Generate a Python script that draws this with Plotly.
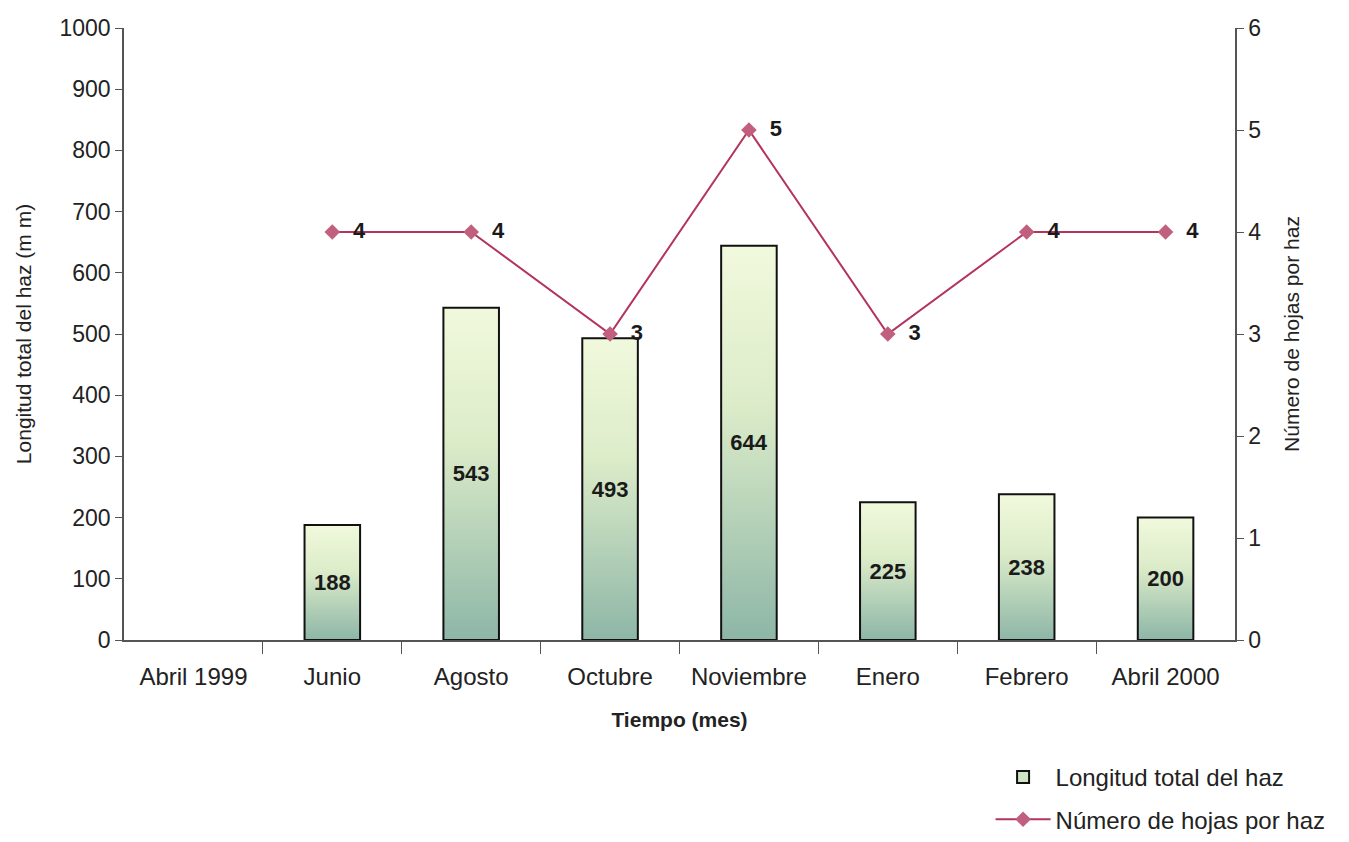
import base64
import plotly.graph_objects as go

# Sampling months
meses = ["Abril 1999", "Junio", "Agosto", "Octubre", "Noviembre",
         "Enero", "Febrero", "Abril 2000"]
# Total bundle length (mm); no measurement in April 1999
longitud = [None, 188, 543, 493, 644, 225, 238, 200]
# Leaves per bundle
hojas = [None, 4, 4, 3, 5, 3, 4, 4]

pos = list(range(len(meses)))
ancho = 0.4
fuente = "Liberation Sans, Arial, sans-serif"

# Vertical gradient used as the fill of each bar
svg = (
    '<svg xmlns="http://www.w3.org/2000/svg" width="10" height="100" '
    'preserveAspectRatio="none">'
    '<defs><linearGradient id="g" x1="0" y1="0" x2="0" y2="1">'
    '<stop offset="0" stop-color="#f1f9dc"/>'
    '<stop offset="0.4" stop-color="#dcecc9"/>'
    '<stop offset="1" stop-color="#8db6a7"/>'
    '</linearGradient></defs>'
    '<rect width="10" height="100" fill="url(#g)"/></svg>'
)
grad_src = "data:image/svg+xml;base64," + base64.b64encode(svg.encode()).decode()

fig = go.Figure()

fig.add_trace(go.Bar(
    x=pos, y=longitud, width=ancho,
    marker=dict(color="rgba(0,0,0,0)", line=dict(color="#111", width=2)),
    text=[("" if v is None else str(v)) for v in longitud],
    textposition="inside", insidetextanchor="middle",
    textfont=dict(family=fuente, size=22, color="#1a1a1a", weight="bold"),
    showlegend=False, yaxis="y",
))
# legend entry for the bars
fig.add_trace(go.Bar(
    x=[None], y=[None], name="Longitud total del haz", legendgroup="a",
    marker=dict(color="#cfe4c4", line=dict(color="#111", width=2)),
))

fig.add_trace(go.Scatter(
    x=pos, y=hojas, name="Número de hojas por haz", yaxis="y2", legendgroup="b",
    mode="lines+markers+text",
    line=dict(color="#b3345c", width=2),
    marker=dict(symbol="diamond", size=12, color="#c0607e"),
    text=[("" if v is None else "  " + str(v)) for v in hojas],
    textposition="middle right",
    textfont=dict(family=fuente, size=22, color="#1a1a1a", weight="bold"),
    connectgaps=False,
))

imagenes = []
for p, v in zip(pos, longitud):
    if v is None:
        continue
    imagenes.append(dict(
        source=grad_src, xref="x", yref="y",
        x=p - ancho / 2, y=v, sizex=ancho, sizey=v,
        xanchor="left", yanchor="top", sizing="stretch", layer="below",
    ))

eje = dict(showline=True, linecolor="#555", linewidth=1.5, showgrid=False,
           zeroline=False, tickcolor="#555", automargin=False)

fig.update_layout(
    width=1349, height=842,
    margin=dict(l=124, r=114, t=28, b=202),
    paper_bgcolor="white", plot_bgcolor="rgba(0,0,0,0)",
    images=imagenes,
    barmode="overlay",
    xaxis=dict(
        **eje, range=[-0.5, 7.5], tickmode="array", tickvals=pos, ticktext=meses,
        ticks="", ticklabelstandoff=14,
        tickfont=dict(family=fuente, size=24, color="#222"),
        minor=dict(ticks="outside", tickmode="array",
                   tickvals=[p + 0.5 for p in pos[:-1]], ticklen=12, tickcolor="#555"),
        title=dict(text="<b>Tiempo (mes)</b>", font=dict(family=fuente, size=21, color="#222"),
                   standoff=24),
    ),
    yaxis=dict(
        **eje, range=[0, 1000], dtick=100, ticks="outside", ticklen=7,
        tickfont=dict(family=fuente, size=23, color="#222"),
        title=dict(text="Longitud total del haz (m m)", font=dict(family=fuente, size=21, color="#222"),
                   standoff=22),
    ),
    yaxis2=dict(
        **eje, range=[0, 6], dtick=1, ticks="outside", ticklen=7,
        overlaying="y", side="right",
        tickfont=dict(family=fuente, size=23, color="#222"),
        title=dict(text="Número de hojas por haz", font=dict(family=fuente, size=21, color="#222"),
                   standoff=24),
    ),
    legend=dict(x=0.78, xanchor="left", yref="container", y=0.0, yanchor="bottom",
                font=dict(family=fuente, size=24, color="#222"),
                traceorder="grouped", itemwidth=55, tracegroupgap=8,
                bgcolor="rgba(0,0,0,0)"),
)

fig.write_html("out.html")
